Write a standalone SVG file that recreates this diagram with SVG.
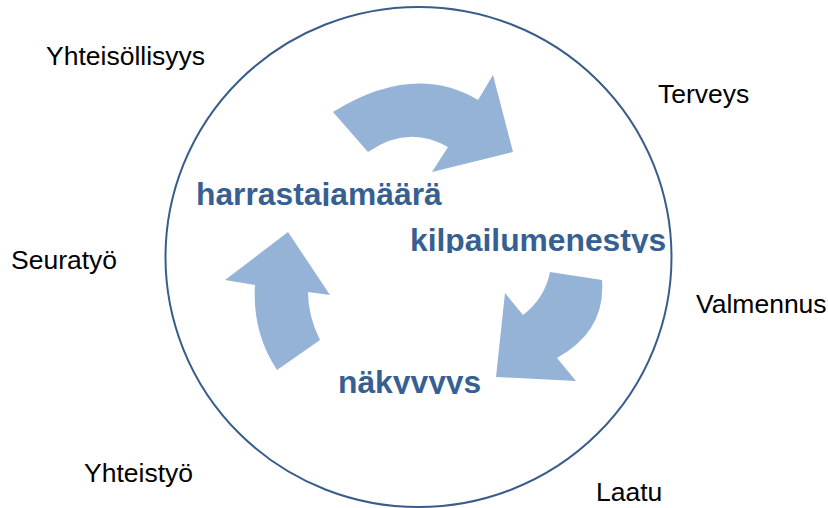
<svg xmlns="http://www.w3.org/2000/svg" width="828" height="508" viewBox="0 0 828 508">
<style>
.lbl{font-family:"Liberation Sans",Arial,sans-serif;font-size:26.5px;fill:#000}
.key{font-family:"Liberation Sans",Arial,sans-serif;font-size:31.8px;font-weight:bold;fill:#376092}
.arr{fill:#95b3d7;stroke:none}
.ring{fill:none;stroke:#385d8a;stroke-width:2}
</style>
<defs>
<clipPath id="c1"><rect x="180" y="150" width="300" height="56"/></clipPath>
<clipPath id="c2"><rect x="400" y="200" width="300" height="53"/></clipPath>
<clipPath id="c3"><rect x="320" y="340" width="200" height="54"/></clipPath>
</defs>
<rect width="828" height="508" fill="#fff"/>
<g id="ring"><ellipse class="ring" cx="418.5" cy="257" rx="253" ry="250"/></g>
<g id="connectors">
<path class="arr" d="M333,112 Q414,62 478,100 L493,75 L513,152 L432,172 L448,147 Q408,124 368,152 Z"/>
<path class="arr" d="M550,272 L602,280 Q606,331 557,358 L576,381 L496,377 L505,293 L523,315 Q545,298 550,272 Z"/>
<path class="arr" d="M277,370 Q252,332 255,285 L225,280 L288,232 L330,295 L308,292 Q308,316 320,340 Z"/>
</g>
<g id="node-harrastajamaara"><text class="key" x="196" y="205" clip-path="url(#c1)">harrastajamäärä</text></g>
<g id="node-kilpailumenestys"><text class="key" x="410" y="251" clip-path="url(#c2)">kilpailumenestys</text></g>
<g id="node-nakyvyys"><text class="key" x="338" y="393" clip-path="url(#c3)">näkyvyys</text></g>
<g id="node-yhteisollisyys"><text class="lbl" x="46" y="65">Yhteisöllisyys</text></g>
<g id="node-terveys"><text class="lbl" x="658" y="103">Terveys</text></g>
<g id="node-seuratyo"><text class="lbl" x="11" y="269">Seuratyö</text></g>
<g id="node-valmennus"><text class="lbl" x="696" y="313">Valmennus</text></g>
<g id="node-yhteistyo"><text class="lbl" x="84" y="482">Yhteistyö</text></g>
<g id="node-laatu"><text class="lbl" x="596" y="501">Laatu</text></g>
</svg>
